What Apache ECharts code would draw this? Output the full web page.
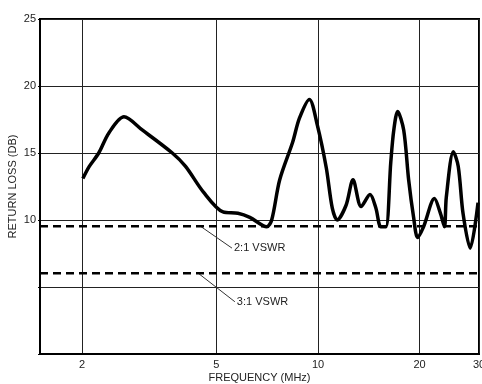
<!DOCTYPE html>
<html>
<head>
<meta charset="utf-8">
<script src="https://cdn.jsdelivr.net/npm/echarts@6/dist/echarts.min.js"></script>
<style>
  html, body { margin: 0; padding: 0; background: #fff; }
  #chart { width: 482px; height: 384px; }
</style>
</head>
<body>
<div id="chart"></div>
<script>
// frequency in MHz (log scale) and return loss in dB
var freqMHz = [2.01, 2.10, 2.24, 2.40, 2.66, 3.02, 3.70, 4.05, 4.57, 5.23, 5.79, 6.28, 7.05, 7.29,
  7.70, 8.41, 8.81, 9.43, 9.95, 10.58, 11.02, 11.40, 12.11, 12.70, 13.42, 14.26, 14.84, 15.35,
  15.89, 16.43, 16.77, 17.22, 17.95, 18.56, 19.2, 19.73, 20.55, 22.13, 23.06, 23.7, 24.0,
  25.18, 26.04, 26.9, 28.25, 29.8];
var returnLossDb = [13.1, 14.0, 15.0, 16.5, 17.7, 16.7, 15.0, 14.0, 12.1, 10.6, 10.5, 10.2, 9.5, 10.0,
  13.0, 15.8, 17.6, 19.0, 17.1, 13.9, 10.9, 10.0, 11.1, 13.0, 11.0, 11.9, 10.9, 9.5,
  9.5, 14.3, 16.7, 18.1, 16.7, 13.0, 10.2, 8.7, 9.5, 11.6, 10.5, 9.5, 11.7,
  15.1, 14.0, 10.5, 7.9, 11.3];

var freqTicks = [2, 5, 10, 20, 30];
var freqRange = [1.5, 30];
var dbTicks = [0, 5, 10, 15, 20, 25];
var dbLabels = ['', '', '10', '15', '20', '25'];

// reference levels for 2:1 and 3:1 VSWR
var vswrNames = ['2:1 VSWR', '3:1 VSWR'];
var vswrLossDb = [9.54, 6.02];
// leader lines from the dashed line to the text
var leaderStart = [[4.48, 9.54], [4.42, 6.02]];
var leaderEnd = [[5.56, 7.9], [5.67, 3.9]];

function lg(v) { return Math.log10(v); }

var curve = [];
for (var i = 0; i < freqMHz.length; i++) {
  curve.push([lg(freqMHz[i]), returnLossDb[i]]);
}

var series = [{
  name: 'return loss',
  type: 'line',
  data: curve,
  smooth: 0.3,
  symbol: 'none',
  lineStyle: { color: '#000', width: 3.5 },
  z: 5
}];

for (var k = 0; k < vswrNames.length; k++) {
  series.push({
    name: vswrNames[k],
    type: 'line',
    data: [[lg(freqRange[0]), vswrLossDb[k]], [lg(freqRange[1]), vswrLossDb[k]]],
    symbol: 'none',
    lineStyle: { color: '#000', width: 2.5, type: [8, 5] },
    z: 4
  });
  series.push({
    name: vswrNames[k] + ' label',
    type: 'line',
    data: [[lg(leaderStart[k][0]), leaderStart[k][1]], [lg(leaderEnd[k][0]), leaderEnd[k][1]]],
    symbol: 'none',
    lineStyle: { color: '#333', width: 1 },
    endLabel: {
      show: true,
      formatter: vswrNames[k],
      distance: 2,
      color: '#222',
      fontSize: 11,
      fontFamily: 'Liberation Sans, Arial, sans-serif'
    },
    z: 3
  });
}

var myChart = echarts.init(document.getElementById('chart'));
var option = {
  animation: false,
  grid: {
    left: 40, right: 3, top: 19, bottom: 30,
    containLabel: false,
    outerBoundsMode: 'none',
    show: true, borderColor: '#000', borderWidth: 2
  },
  xAxis: {
    type: 'value',
    min: lg(freqRange[0]),
    max: lg(freqRange[1]),
    name: 'FREQUENCY (MHz)',
    nameLocation: 'middle',
    nameGap: 18,
    nameMoveOverlap: false,
    nameTextStyle: { color: '#222', fontSize: 11, fontFamily: 'Liberation Sans, Arial, sans-serif' },
    axisLine: { lineStyle: { color: '#000', width: 2 } },
    axisTick: { show: false, customValues: freqTicks.map(lg) },
    axisLabel: {
      customValues: freqTicks.map(lg),
      formatter: function (v) { return String(Math.round(Math.pow(10, v))); },
      color: '#222', fontSize: 11, margin: 5,
      fontFamily: 'Liberation Sans, Arial, sans-serif'
    },
    splitLine: { show: true, lineStyle: { color: '#222', width: 1 } }
  },
  yAxis: {
    type: 'value',
    min: dbTicks[0],
    max: dbTicks[dbTicks.length - 1],
    interval: 5,
    name: 'RETURN LOSS (DB)',
    nameLocation: 'middle',
    nameGap: 22,
    nameMoveOverlap: false,
    nameTextStyle: { color: '#222', fontSize: 11, fontFamily: 'Liberation Sans, Arial, sans-serif' },
    axisLine: { lineStyle: { color: '#000', width: 2 } },
    axisTick: { show: true, length: 2, lineStyle: { color: '#000' } },
    axisLabel: {
      formatter: function (v) { return dbLabels[dbTicks.indexOf(v)] || ''; },
      color: '#222', fontSize: 11, margin: 4,
      fontFamily: 'Liberation Sans, Arial, sans-serif'
    },
    splitLine: { show: true, lineStyle: { color: '#222', width: 1 } }
  },
  series: series
};
myChart.setOption(option);
window.addEventListener('resize', function () { myChart.resize(); });
</script>
</body>
</html>
